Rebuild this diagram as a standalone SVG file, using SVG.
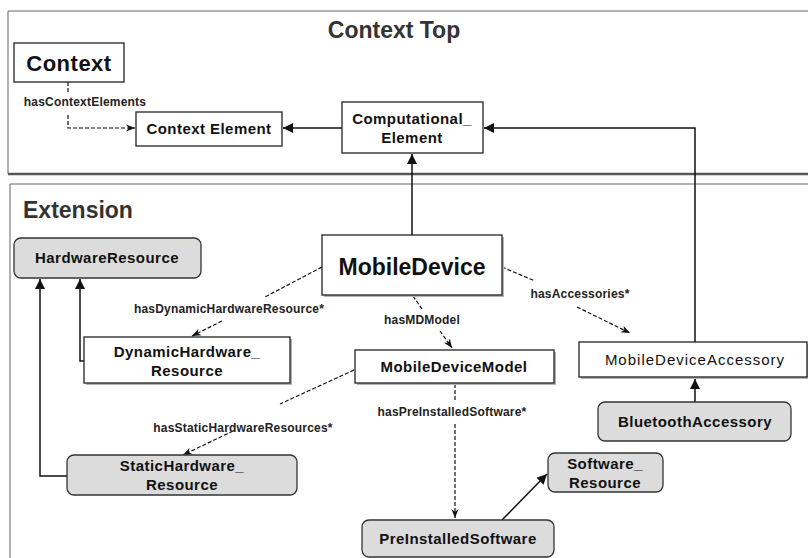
<svg xmlns="http://www.w3.org/2000/svg" width="808" height="558" viewBox="0 0 808 558">
<style>
text{font-family:"Liberation Sans",Arial,sans-serif;fill:#111;text-anchor:middle}
.b{font-weight:bold}
.n15{font-size:15px;font-weight:bold;letter-spacing:0.45px}
.title{font-size:23px;font-weight:bold;fill:#333;text-anchor:start}
.lbl{font-size:12px;font-weight:bold;fill:#222;letter-spacing:0.2px}
.wbox{fill:#fff;stroke:#222;stroke-width:1.3}
.gbox{fill:#dcdcdc;stroke:#333;stroke-width:1.3}
.shadow{fill:#b5b5b5}
.solid{fill:none;stroke:#111;stroke-width:1.5}
.dash{fill:none;stroke:#111;stroke-width:1.2;stroke-dasharray:4 2}
</style>
<defs>
<marker id="tri" viewBox="0 0 10 10" refX="10" refY="5" markerWidth="10" markerHeight="10" markerUnits="userSpaceOnUse" orient="auto">
<path d="M0,0 L10,5 L0,10 z" fill="#111"/>
</marker>
<marker id="open" viewBox="0 0 10 10" refX="10" refY="5" markerWidth="9" markerHeight="9" markerUnits="userSpaceOnUse" orient="auto">
<path d="M0,1 L10,5 L0,9 L3,5 z" fill="#111"/>
</marker>
</defs>

<g id="panels">
<path d="M808,11 H8 V174" fill="none" stroke="#666" stroke-width="1"/>
<line x1="8" y1="174" x2="808" y2="174" stroke="#555" stroke-width="2.5"/>
<path d="M808,184 H10 V558" fill="none" stroke="#666" stroke-width="1"/>
<text x="394" y="38" class="title" style="text-anchor:middle">Context Top</text>
<text x="23" y="218" class="title">Extension</text>
</g>

<g id="connectors">
<path class="dash" d="M68,82 V94"/>
<path class="dash" d="M68,115 V128 H135" marker-end="url(#open)"/>
<path class="solid" d="M342,128 H283" marker-end="url(#tri)"/>
<path class="solid" d="M412,235 V154" marker-end="url(#tri)"/>
<path class="solid" d="M695,342 V128 H484" marker-end="url(#tri)"/>
<path class="solid" d="M67,476 H40 V279" marker-end="url(#tri)"/>
<path class="solid" d="M84,361 H80 V279" marker-end="url(#tri)"/>
<path class="dash" d="M322,267 L265,297"/>
<path class="dash" d="M222,321 L192,336" marker-end="url(#open)"/>
<path class="dash" d="M413,296 L422,309"/>
<path class="dash" d="M440,331 L452,348" marker-end="url(#open)"/>
<path class="dash" d="M502,267 L535,281"/>
<path class="dash" d="M577,307 L630,333" marker-end="url(#open)"/>
<path class="dash" d="M354,370 L280,404"/>
<path class="dash" d="M233,431 L183,455" marker-end="url(#open)"/>
<path class="dash" d="M455,384 V400"/>
<path class="dash" d="M455,424 V518" marker-end="url(#open)"/>
<path class="solid" d="M502,520 L547,474" marker-end="url(#tri)"/>
<path class="solid" d="M695,402 V379" marker-end="url(#tri)"/>
<text x="85" y="106" class="lbl">hasContextElements</text>
<text x="229" y="313" class="lbl">hasDynamicHardwareResource*</text>
<text x="422" y="324" class="lbl">hasMDModel</text>
<text x="580" y="298" class="lbl">hasAccessories*</text>
<text x="243" y="432" class="lbl">hasStaticHardwareResources*</text>
<text x="452" y="416" class="lbl">hasPreInstalledSoftware*</text>
</g>

<g id="context">
<rect x="14" y="43" width="110" height="39" class="wbox"/>
<text x="69" y="71" class="b" font-size="22" letter-spacing="0.5">Context</text>
</g>
<g id="context-element">
<rect x="136" y="112" width="146" height="34" class="wbox"/>
<text x="209" y="134" class="n15">Context Element</text>
</g>
<g id="computational-element">
<rect x="342" y="102" width="141" height="51" class="wbox"/>
<text x="412" y="124" class="n15" letter-spacing="0.8">Computational_</text>
<text x="412" y="143" class="n15" letter-spacing="0.8">Element</text>
</g>

<g id="hardware-resource">
<rect x="14" y="238" width="187" height="40" rx="7" class="gbox"/>
<text x="107" y="263" class="n15" letter-spacing="0.9">HardwareResource</text>
</g>
<g id="mobile-device">
<rect x="324" y="237" width="180" height="60" class="shadow"/>
<rect x="322" y="235" width="180" height="60" class="wbox"/>
<text x="412" y="275" class="b" font-size="23">MobileDevice</text>
</g>
<g id="dynamic-hardware-resource">
<rect x="86" y="339" width="206" height="46" class="shadow"/>
<rect x="84" y="337" width="206" height="46" class="wbox"/>
<text x="187" y="357" class="n15">DynamicHardware_</text>
<text x="187" y="376" class="n15">Resource</text>
</g>
<g id="mobile-device-model">
<rect x="357" y="352" width="199" height="33" class="shadow"/>
<rect x="355" y="350" width="199" height="33" class="wbox"/>
<text x="454" y="372" class="n15">MobileDeviceModel</text>
</g>
<g id="mobile-device-accessory">
<rect x="581" y="344" width="228" height="35" class="shadow"/>
<rect x="579" y="342" width="228" height="35" class="wbox"/>
<text x="695" y="365" font-size="15" letter-spacing="1">MobileDeviceAccessory</text>
</g>
<g id="bluetooth-accessory">
<rect x="598" y="402" width="193" height="39" rx="7" class="gbox"/>
<text x="695" y="427" class="n15">BluetoothAccessory</text>
</g>
<g id="static-hardware-resource">
<rect x="67" y="455" width="230" height="40" rx="7" class="gbox"/>
<text x="182" y="471" class="n15">StaticHardware_</text>
<text x="182" y="490" class="n15">Resource</text>
</g>
<g id="software-resource">
<rect x="548" y="453" width="115" height="39" rx="7" class="gbox"/>
<text x="605" y="469" class="n15">Software_</text>
<text x="605" y="488" class="n15">Resource</text>
</g>
<g id="preinstalled-software">
<rect x="362" y="520" width="192" height="37" rx="7" class="gbox"/>
<text x="458" y="544" class="n15">PreInstalledSoftware</text>
</g>
</svg>
